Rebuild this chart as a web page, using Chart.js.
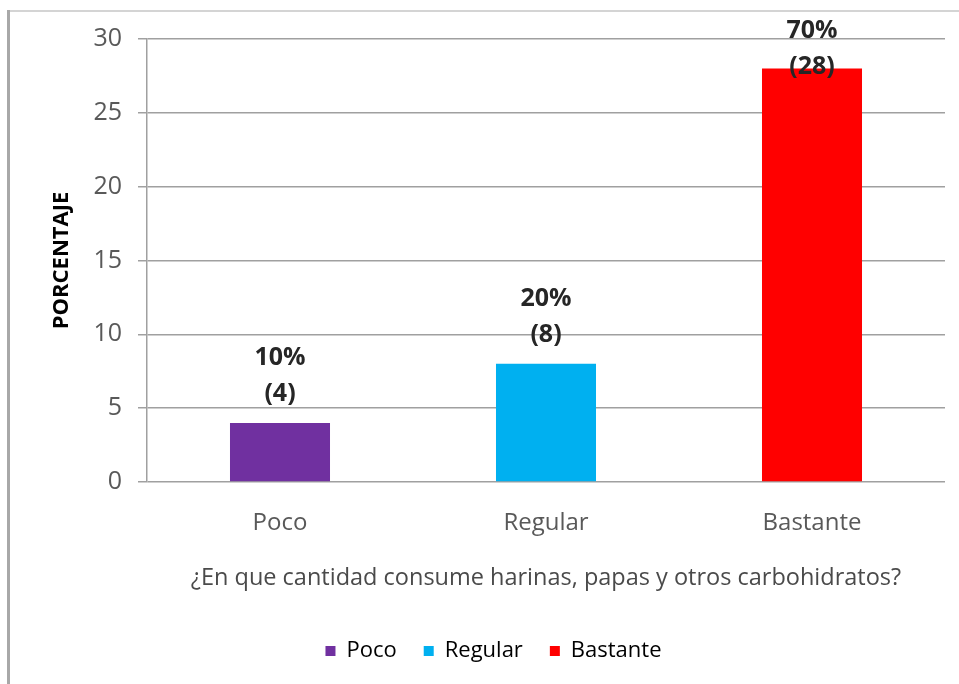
<!DOCTYPE html>
<html>
<head>
<meta charset="utf-8">
<script src="https://cdn.jsdelivr.net/npm/chart.js@4.4.1/dist/chart.umd.min.js"></script>
<style>
html,body{margin:0;padding:0;background:#fff;}
#wrap{position:relative;width:959px;height:684px;}
</style>
</head>
<body>
<div id="wrap"><canvas id="c" width="959" height="684"></canvas></div>
<script>
const categories = ["Poco", "Regular", "Bastante"];
const counts = [4, 8, 28];
const percentLabels = ["10%", "20%", "70%"];
const yTicks = [0, 5, 10, 15, 20, 25, 30];
const colors = ["#7030A0", "#00B0F0", "#FF0000"];
const xTitle = "¿En que cantidad consume harinas, papas y otros carbohidratos?";
const yTitle = "PORCENTAJE";

const FONT = "'Open Sans', 'Noto Sans', sans-serif";

const framePlugin = {
  id: 'frame',
  beforeDraw(chart) {
    const ctx = chart.ctx;
    ctx.save();
    ctx.fillStyle = '#fff';
    ctx.fillRect(0, 0, chart.width, chart.height);
    ctx.fillStyle = '#d4d4d4';
    ctx.fillRect(7, 10, chart.width - 7, 2);
    ctx.fillStyle = '#a8a8a8';
    ctx.fillRect(7, 10, 3, chart.height - 10);
    ctx.restore();
  }
};

const labelPlugin = {
  id: 'barLabels',
  afterDatasetsDraw(chart) {
    const ctx = chart.ctx;
    const meta = chart.getDatasetMeta(0);
    ctx.save();
    ctx.font = "bold 25px " + FONT;
    ctx.fillStyle = '#262626';
    ctx.textAlign = 'center';
    ctx.textBaseline = 'middle';
    meta.data.forEach((bar, i) => {
      let y1 = bar.y - 65;
      if (y1 < chart.chartArea.top - 8) y1 = chart.chartArea.top - 8;
      const y2 = y1 + 36;
      ctx.fillText(percentLabels[i], bar.x, y1);
      ctx.fillText("(" + counts[i] + ")", bar.x, y2);
    });
    ctx.restore();
  }
};

new Chart(document.getElementById('c'), {
  type: 'bar',
  data: {
    labels: categories,
    datasets: [{
      data: counts,
      backgroundColor: colors,
      borderWidth: 0,
      categoryPercentage: 1,
      barPercentage: 0.376
    }]
  },
  options: {
    responsive: false,
    animation: false,
    layout: { padding: { top: 39, right: 14, left: 42, bottom: 12 } },
    plugins: {
      tooltip: { enabled: false },
      legend: {
        position: 'bottom',
        labels: {
          font: { family: FONT, size: 22 },
          color: '#595959',
          boxWidth: 10,
          boxHeight: 10,
          padding: 27,
          generateLabels() {
            return categories.map((c, i) => ({
              text: c, fillStyle: colors[i], strokeStyle: colors[i], lineWidth: 0, hidden: false, index: i
            }));
          }
        }
      }
    },
    scales: {
      x: {
        grid: { display: false, drawTicks: false },
        border: { display: false },
        ticks: { font: { family: FONT, size: 24 }, color: '#595959', padding: 27 },
        title: {
          display: true, text: xTitle,
          font: { family: FONT, size: 23.5 }, color: '#4a4a4a',
          padding: { top: 0, bottom: 21 }
        },
        afterFit(s) { s.height = 131; }
      },
      y: {
        min: 0, max: 30,
        afterBuildTicks(s) { s.ticks = yTicks.map(v => ({ value: v })); },
        grid: { color: '#a0a0a0', lineWidth: 1.5, tickLength: 9, drawTicks: true },
        border: { display: true, color: '#a0a0a0', width: 1.5 },
        ticks: { font: { family: FONT, size: 25 }, color: '#595959', padding: 16 },
        title: {
          display: true, text: yTitle,
          font: { family: FONT, size: 22, weight: 'bold' }, color: '#000',
          padding: { top: 7, bottom: 0 }
        },
        afterFit(s) { s.width = 105; }
      }
    }
  },
  plugins: [framePlugin, labelPlugin]
});
</script>
</body>
</html>
